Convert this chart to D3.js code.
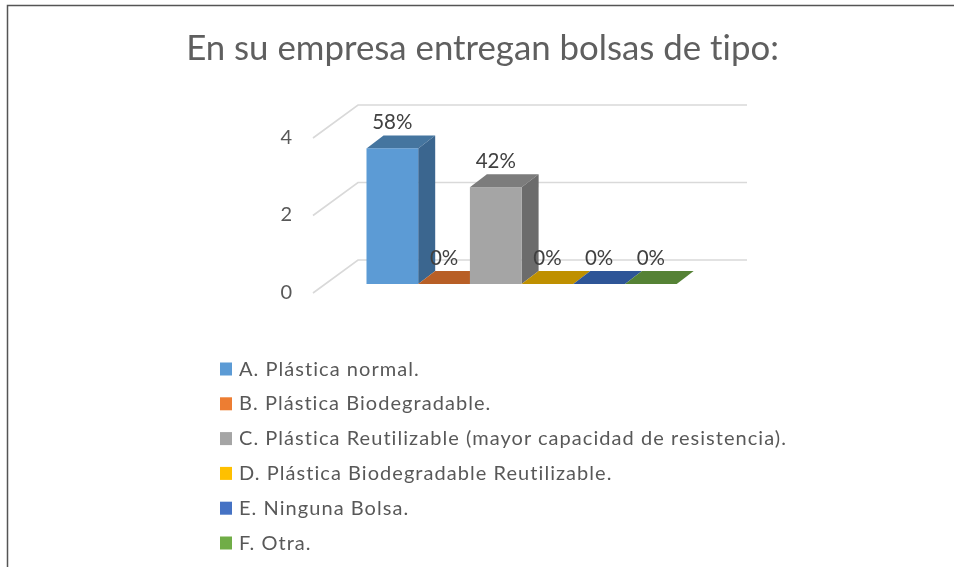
<!DOCTYPE html>
<html><head><meta charset="utf-8">
<script src="https://cdn.jsdelivr.net/npm/d3@7"></script>
<style>html,body{margin:0;padding:0;background:#fff}svg{display:block}text{font-family:"Lato",sans-serif;fill:#595959;font-variant-ligatures:none}</style>
</head><body><svg id="c" width="954" height="567"></svg>
<script>
const titleText = "En su empresa entregan bolsas de tipo:";
const categories = ["A. Plástica normal.","B. Plástica Biodegradable.","C. Plástica Reutilizable (mayor capacidad de resistencia).","D. Plástica Biodegradable Reutilizable.","E. Ninguna Bolsa.","F. Otra."];
const values = [3.5,0,2.5,0,0,0];
const pctLabels = ["58%","0%","42%","0%","0%","0%"];
const yTicks = [0,2,4];
const frontColors = ["#5b9bd5","#ed7d31","#a5a5a5","#ffc000","#4472c4","#70ad47"];
const sideColors  = ["#3a668f","#9c5220","#6c6c6c","#a67d00","#2d4b80","#49712e"];
const topColors   = ["#44749f","#b85f26","#7b7b7b","#bf9000","#2f5597","#548235"];

const svg = d3.select("#c");
const defs = svg.append("defs");
defs.append("filter").attr("id","soft").attr("filterUnits","userSpaceOnUse").attr("x",0).attr("y",0).attr("width",954).attr("height",567)
  .append("feGaussianBlur").attr("stdDeviation",0.75);
const root = svg.append("g");

// frame
root.append("path").attr("d","M7.5,567V5.5H954").attr("fill","none").attr("stroke","#555").attr("stroke-width",1.5);

const art = root.append("g").attr("filter","url(#soft)");
art.append("text").attr("x",482.5).attr("y",60).attr("text-anchor","middle").attr("font-size",34.8).style("fill","#5f5f5f").text(titleText);

const y = d3.scaleLinear().domain([0,4]).range([293,138]);
const x = d3.scaleBand().domain(categories).range([366.5,676.7]);
const depthX = 17, depthY = 13, floorY = 9, wallX = 45, wallY = 33, wallEnd = 747;

// gridlines and slanted floor lines
yTicks.forEach(t=>{
  art.append("path").attr("d",`M${313},${y(t)}L${313+wallX},${y(t)-wallY}H${wallEnd}`)
    .attr("fill","none").attr("stroke","#d9d9d9").attr("stroke-width",1.6);
});

// y axis labels
const axis = d3.axisLeft(y).tickValues(yTicks).tickSize(0).tickPadding(14).tickFormat(d3.format("d"));
const ag = art.append("g").attr("transform","translate(306,-1)").call(axis);
ag.select(".domain").remove();
ag.selectAll("text").attr("font-size",20).attr("font-family",'"Lato",sans-serif').style("fill","#595959");

// 3D bars
categories.forEach((c,i)=>{
  const x0 = x(c), x1 = x0 + x.bandwidth();
  const yb = y(0)-floorY, yt = y(values[i])-floorY;
  const g = art.append("g");
  g.append("polygon").attr("points",[[x0,yt],[x0+depthX,yt-depthY],[x1+depthX,yt-depthY],[x1,yt]].join(" ")).attr("fill",topColors[i]);
  if(values[i]>0){
    g.append("polygon").attr("points",[[x1,yt],[x1+depthX,yt-depthY],[x1+depthX,yb-depthY],[x1,yb]].join(" ")).attr("fill",sideColors[i]);
    g.append("rect").attr("x",x0).attr("y",yt).attr("width",x1-x0).attr("height",yb-yt).attr("fill",frontColors[i]);
  }
});
// data labels
categories.forEach((c,i)=>{
  art.append("text").attr("x",x(c)+x.bandwidth()/2)
    .attr("y",y(values[i])-floorY-depthY-6.5).attr("text-anchor","middle")
    .attr("font-size",20.5).style("fill","#404040").text(pctLabels[i]);
});

// legend
const ly = d3.scalePoint().domain(categories).range([369,543]);
categories.forEach((c,i)=>{
  art.append("rect").attr("x",220).attr("y",ly(c)-6.5).attr("width",12).attr("height",13).attr("fill",frontColors[i]);
  art.append("text").attr("x",239).attr("y",ly(c)+6.5).attr("font-size",20).attr("letter-spacing",1.05).text(c);
});
</script></body></html>
